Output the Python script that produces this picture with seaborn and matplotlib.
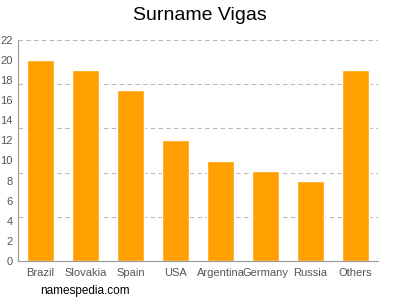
import matplotlib
matplotlib.use("Agg")
import matplotlib.pyplot as plt
import seaborn as sns
import numpy as np
import pandas as pd

countries = ["Brazil", "Slovakia", "Spain", "USA", "Argentina", "Germany", "Russia", "Others"]
counts = [20, 19, 17, 12, 10, 9, 8, 19]
yticks = list(range(0, 23, 2))

sns.set_style("white")
plt.rcParams["font.family"] = ["Liberation Sans", "DejaVu Sans"]

df = pd.DataFrame({"country": countries, "count": counts})
fig = plt.figure(figsize=(4, 3), dpi=100)
ax = fig.add_axes([0.045, 0.13, 0.9, 0.737])
sns.barplot(data=df, x="country", y="count", color="#FFA000", saturation=1, width=0.62, ax=ax)

ymax = 22
for g in np.linspace(0, ymax, 6)[1:]:
    ax.axhline(g, color="#bbbbbb", linestyle=(0, (4, 3)), linewidth=0.8, zorder=0)

ax.set_ylim(0, ymax)
ax.set_xlim(-0.5, 7.5)
ax.set_yticks(yticks)
ax.set_xlabel("")
ax.set_ylabel("")
for s in ["top", "right"]:
    ax.spines[s].set_visible(False)
for s in ["left", "bottom"]:
    ax.spines[s].set_color("#999999")
    ax.spines[s].set_linewidth(0.8)
ax.tick_params(axis="both", colors="#999999", labelcolor="#555555", labelsize=8, length=3, width=0.8)
ax.tick_params(axis="x", pad=2)
ax.tick_params(axis="y", pad=1)
ax.set_axisbelow(True)

fig.text(0.5, 0.95, "Surname Vigas", ha="center", va="center", fontsize=14, color="#000000")
fig.text(0.1, 0.03, "namespedia.com", ha="left", va="center", fontsize=8.5, color="#000000")

fig.savefig("out.png", dpi=100)
